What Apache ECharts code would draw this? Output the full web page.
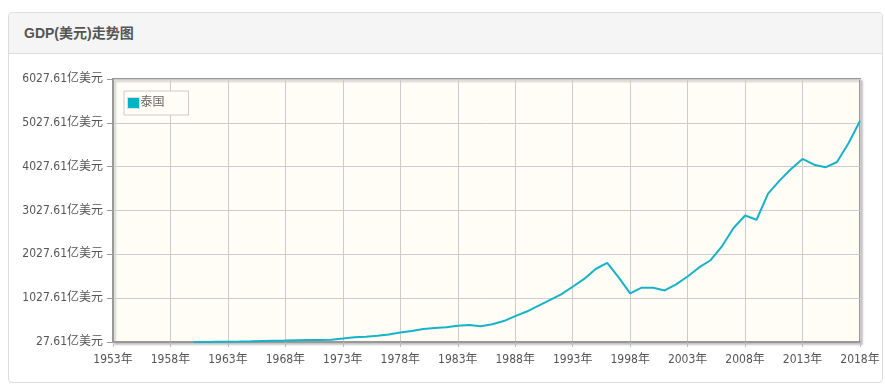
<!DOCTYPE html>
<html>
<head>
<meta charset="utf-8">
<script src="https://cdn.jsdelivr.net/npm/echarts@6/dist/echarts.min.js"></script>
<style>
  html, body { margin: 0; padding: 0; width: 885px; height: 391px; background: #fff; overflow: hidden; }
  #card { position: absolute; left: 8px; top: 12px; width: 873px; height: 369px; border: 1px solid #ddd; border-radius: 4px; background: #fff; }
  #head { position: absolute; left: 0; top: 0; right: 0; height: 40px; background: #f5f5f5; border-bottom: 1px solid #ddd; border-radius: 4px 4px 0 0; }
  #title { position: absolute; left: 15px; top: 12px; font: bold 14px "Liberation Sans", Arial, "Noto Sans CJK SC", sans-serif; color: #555; line-height: 17px; }
  #chart { position: absolute; left: 0; top: 0; width: 885px; height: 391px; }
</style>
</head>
<body>
<div id="card"><div id="head"><div id="title">GDP(美元)走势图</div></div></div>
<div id="chart"></div>
<script>
const seriesName = '泰国';
const years = [1960,1961,1962,1963,1964,1965,1966,1967,1968,1969,1970,1971,1972,1973,1974,1975,1976,1977,1978,1979,1980,1981,1982,1983,1984,1985,1986,1987,1988,1989,1990,1991,1992,1993,1994,1995,1996,1997,1998,1999,2000,2001,2002,2003,2004,2005,2006,2007,2008,2009,2010,2011,2012,2013,2014,2015,2016,2017,2018];
const gdpValues = [27.61,30.34,33.08,35.40,38.89,43.88,52.80,56.36,60.81,66.95,70.87,73.60,81.08,108.4,137.0,148.9,169.6,198.0,245.3,277.3,323.5,348.5,365.9,400.4,418.0,389.0,431.0,505.4,616.7,722.5,853.4,982.3,1114.5,1288.9,1466.8,1692.8,1830.4,1501.8,1136.8,1266.7,1263.9,1203.0,1343.0,1522.8,1729.0,1893.2,2217.6,2629.4,2913.8,2817.1,3411.0,3708.2,3975.6,4203.3,4073.4,4013.0,4133.7,4563.6,5067.5];
const xMin = 1953, xMax = 2018, xStep = 5;
const yMin = 27.61, yMax = 6027.61, yStep = 1000;
const yUnit = '亿美元';
const xUnit = '年';

const labelFont = '"DejaVu Sans Condensed", "DejaVu Sans", "Noto Sans CJK SC", sans-serif';
const chart = echarts.init(document.getElementById('chart'), null, { renderer: 'canvas' });
chart.setOption({
  animation: false,
  backgroundColor: 'transparent',
  grid: {
    left: 113, right: 25, top: 79, bottom: 49,
    show: true,
    backgroundColor: '#fffdf6',
    borderColor: '#999',
    borderWidth: 2,
    shadowColor: 'rgba(0,0,0,0.18)',
    shadowBlur: 2,
    shadowOffsetX: 2,
    shadowOffsetY: 2
  },
  legend: {
    show: true,
    left: 124, top: 91,
    orient: 'vertical',
    data: [{ name: seriesName, icon: 'rect' }],
    itemWidth: 12, itemHeight: 11,
    itemGap: 2,
    padding: [6, 24, 6, 3],
    borderColor: '#ccc', borderWidth: 1,
    backgroundColor: '#fffdf6',
    itemStyle: { borderColor: '#ddd', borderWidth: 1 },
    textStyle: { color: '#666', fontSize: 12, fontFamily: labelFont, padding: [0, 0, 0, -4] }
  },
  xAxis: {
    type: 'value',
    min: xMin, max: xMax, interval: xStep,
    axisLine: { show: true, lineStyle: { color: '#999', width: 2 } },
    axisTick: { show: true, length: 5, lineStyle: { color: '#bbb' } },
    splitLine: { show: true, lineStyle: { color: '#ccc', width: 1 } },
    axisLabel: {
      color: '#555', fontSize: 12, fontFamily: labelFont, margin: 12,
      formatter: v => v + xUnit
    }
  },
  yAxis: {
    type: 'value',
    min: yMin, max: yMax, interval: yStep,
    axisLine: { show: true, lineStyle: { color: '#999', width: 2 } },
    axisTick: { show: true, length: 6, lineStyle: { color: '#999' } },
    splitLine: { show: true, lineStyle: { color: '#ccc', width: 1 } },
    axisLabel: {
      color: '#555', fontSize: 12, fontFamily: labelFont, margin: 10,
      formatter: v => (+v).toFixed(2) + yUnit
    }
  },
  series: [{
    name: seriesName,
    type: 'line',
    data: years.map((y, i) => [y, gdpValues[i]]),
    showSymbol: false,
    symbol: 'none',
    lineStyle: { color: '#16b3c8', width: 2 },
    itemStyle: { color: '#00b4c8' }
  }]
});
</script>
</body>
</html>
